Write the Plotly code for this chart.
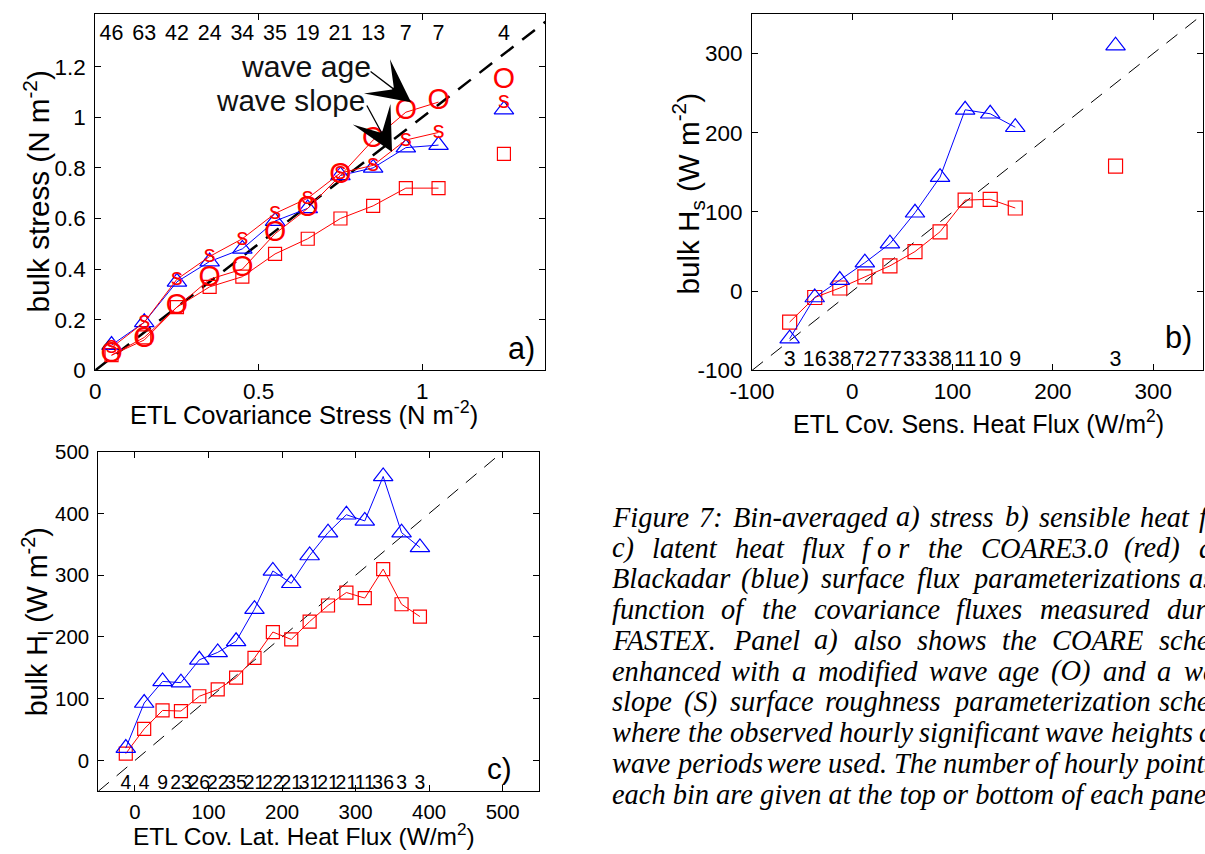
import plotly.graph_objects as go

W, H = 1205, 854

# ---------------- data : panel a (stress) ----------------
a_bins = [0.05, 0.15, 0.25, 0.35, 0.45, 0.55, 0.65, 0.75, 0.85, 0.95, 1.05]
a_coare = [0.06, 0.13, 0.25, 0.33, 0.37, 0.46, 0.52, 0.60, 0.65, 0.72, 0.72]
a_black = [0.10, 0.19, 0.35, 0.43, 0.48, 0.59, 0.64, 0.77, 0.80, 0.88, 0.89]
a_age = [0.06, 0.12, 0.25, 0.36, 0.40, 0.54, 0.64, 0.77, 0.91, 1.02, 1.06]
a_slope = [0.09, 0.19, 0.36, 0.45, 0.52, 0.62, 0.68, 0.78, 0.81, 0.91, 0.94]
a_extra_x = [1.25]
a_extra_coare = [0.855]
a_extra_black = [1.03]
a_extra_age = [1.145]
a_extra_slope = [1.06]
a_counts = [46, 63, 42, 24, 34, 35, 19, 21, 13, 7, 7, 4]
a_count_x = a_bins + a_extra_x
a_diag = [0, 1.377]

# ---------------- data : panel b (sensible heat) ----------------
b_bins = [-62.5, -37.5, -12.5, 12.5, 37.5, 62.5, 87.5, 112.5, 137.5, 162.5]
b_coare = [-39, -8, 4, 18, 32, 50, 75, 115, 116, 105]
b_black = [-60, -8, 14, 36, 60, 99, 144, 229, 224, 207]
b_extra_x = [262.5]
b_extra_coare = [158]
b_extra_black = [310]
b_counts = [3, 16, 38, 72, 77, 33, 38, 11, 10, 9, 3]
b_count_x = b_bins + b_extra_x
b_diag = [-100, 345]

# ---------------- data : panel c (latent heat) ----------------
c_bins = [-12.5, 12.5, 37.5, 62.5, 87.5, 112.5, 137.5, 162.5, 187.5,
          212.5, 237.5, 262.5, 287.5, 312.5, 337.5, 362.5, 387.5]
c_coare = [11, 51, 81, 80, 104, 115, 134, 166, 208, 196, 225, 251, 272, 263, 310, 253, 233]
c_black = [20, 93, 128, 126, 163, 175, 193, 245, 307, 287, 332, 369, 398, 388, 460, 369, 345]
c_counts = [4, 4, 9, 23, 26, 22, 35, 21, 22, 21, 31, 21, 21, 11, 36, 3, 3]
c_diag = [-50, 490]

# tick labels
a_yticks = [0, 0.2, 0.4, 0.6, 0.8, 1.0, 1.2]
b_ticks = [-100, 0, 100, 200, 300]
b_ticktext = ["-100", "0", "100", "200", "300"]
c_ticks = [0, 100, 200, 300, 400, 500]

caption_lines = [
    "Figure 7: Bin-averaged a) stress b) sensible heat flux",
    "c) latent heat flux f o r the COARE3.0 (red) and",
    "Blackadar (blue) surface flux parameterizations as a",
    "function of the covariance fluxes measured during",
    "FASTEX. Panel a) also shows the COARE scheme",
    "enhanced with a modified wave age (O) and a wave",
    "slope (S) surface roughness parameterization scheme",
    "where the observed hourly significant wave heights and",
    "wave periods were used. The number of hourly points in",
    "each bin are given at the top or bottom of each panel.",
]

RED = "#ff0000"
BLUE = "#0000ff"
SANS = "Liberation Sans, Arial, sans-serif"
SERIF = "Liberation Serif, Times New Roman, serif"

# approximate Times-Italic advance widths (per 1000 em) for justified caption layout
TI = {" ": 250, "(": 333, ")": 333, ",": 250, "-": 333, ".": 250, "/": 278, ":": 333}
TI.update({d: 500 for d in "0123456789"})
TI.update(dict(A=611, B=611, C=667, D=722, E=611, F=611, G=722, H=722, I=333, J=444, K=667,
               L=556, M=833, N=667, O=722, P=611, Q=722, R=611, S=500, T=556, U=722, V=611,
               W=833, X=611, Y=556, Z=556))
TI.update(dict(a=500, b=500, c=444, d=500, e=444, f=278, g=500, h=500, i=278, j=278, k=444,
               l=278, m=722, n=500, o=500, p=500, q=500, r=389, s=389, t=278, u=500, v=444,
               w=667, x=444, y=444, z=389))

# mapping from target-picture pixel positions to layout pixels (compensates the
# slight scale/offset observed in the photographed page)
SC, OX, OY = 0.979, 24.0, 6.0


def X(xr):
    return (xr - OX) / SC


def Y(yr):
    return (yr - OY) / SC


def px(xr):
    return X(xr) / W


def py(yr):
    return 1 - Y(yr) / H


def fs(s):
    return s / SC


def text_w(s, size):
    return sum(TI.get(ch, 500) for ch in s) * size / 1000.0


fig = go.Figure()

# ---------- panel a ----------
fig.add_trace(go.Scatter(x=a_diag, y=a_diag, mode="lines", xaxis="x", yaxis="y",
                         line=dict(color="black", width=2.5, dash="16px,11px")))
fig.add_trace(go.Scatter(x=a_bins, y=a_coare, mode="lines+markers", xaxis="x", yaxis="y",
                         line=dict(color=RED, width=1),
                         marker=dict(symbol="square-open", size=13, color=RED, line=dict(width=1.2))))
fig.add_trace(go.Scatter(x=a_bins, y=a_black, mode="lines+markers", xaxis="x", yaxis="y",
                         line=dict(color=BLUE, width=1),
                         marker=dict(symbol="triangle-up-open", size=17, color=BLUE, line=dict(width=1.2))))
fig.add_trace(go.Scatter(x=a_bins, y=a_slope, mode="lines+text", xaxis="x", yaxis="y",
                         text=["s"] * len(a_bins), textposition="middle center",
                         textfont=dict(family=SANS, size=fs(23), color=RED),
                         line=dict(color=RED, width=1)))
fig.add_trace(go.Scatter(x=a_bins, y=a_age, mode="lines+text", xaxis="x", yaxis="y",
                         text=["O"] * len(a_bins), textposition="middle center",
                         textfont=dict(family=SANS, size=fs(28), color=RED),
                         line=dict(color=RED, width=1)))
fig.add_trace(go.Scatter(x=a_extra_x, y=a_extra_coare, mode="markers", xaxis="x", yaxis="y",
                         marker=dict(symbol="square-open", size=13, color=RED, line=dict(width=1.2))))
fig.add_trace(go.Scatter(x=a_extra_x, y=a_extra_black, mode="markers", xaxis="x", yaxis="y",
                         marker=dict(symbol="triangle-up-open", size=17, color=BLUE, line=dict(width=1.2))))
fig.add_trace(go.Scatter(x=a_extra_x, y=a_extra_slope, mode="text", xaxis="x", yaxis="y",
                         text=["s"], textposition="middle center",
                         textfont=dict(family=SANS, size=fs(23), color=RED)))
fig.add_trace(go.Scatter(x=a_extra_x, y=a_extra_age, mode="text", xaxis="x", yaxis="y",
                         text=["O"], textposition="middle center",
                         textfont=dict(family=SANS, size=fs(28), color=RED)))
fig.add_trace(go.Scatter(x=a_count_x, y=[1.325] * len(a_count_x), mode="text", xaxis="x", yaxis="y",
                         text=[str(c) for c in a_counts], textposition="middle center",
                         textfont=dict(family=SANS, size=fs(21), color="black")))

# ---------- panel b ----------
fig.add_trace(go.Scatter(x=b_diag, y=b_diag, mode="lines", xaxis="x2", yaxis="y2",
                         line=dict(color="black", width=1, dash="14px,10px")))
fig.add_trace(go.Scatter(x=b_bins, y=b_coare, mode="lines+markers", xaxis="x2", yaxis="y2",
                         line=dict(color=RED, width=1),
                         marker=dict(symbol="square-open", size=14, color=RED, line=dict(width=1.2))))
fig.add_trace(go.Scatter(x=b_bins, y=b_black, mode="lines+markers", xaxis="x2", yaxis="y2",
                         line=dict(color=BLUE, width=1),
                         marker=dict(symbol="triangle-up-open", size=17, color=BLUE, line=dict(width=1.2))))
fig.add_trace(go.Scatter(x=b_extra_x, y=b_extra_coare, mode="markers", xaxis="x2", yaxis="y2",
                         marker=dict(symbol="square-open", size=14, color=RED, line=dict(width=1.2))))
fig.add_trace(go.Scatter(x=b_extra_x, y=b_extra_black, mode="markers", xaxis="x2", yaxis="y2",
                         marker=dict(symbol="triangle-up-open", size=17, color=BLUE, line=dict(width=1.2))))
fig.add_trace(go.Scatter(x=b_count_x, y=[-87.5] * len(b_count_x), mode="text", xaxis="x2", yaxis="y2",
                         text=[str(c) for c in b_counts], textposition="middle center",
                         textfont=dict(family=SANS, size=fs(21), color="black")))

# ---------- panel c ----------
fig.add_trace(go.Scatter(x=c_diag, y=c_diag, mode="lines", xaxis="x3", yaxis="y3",
                         line=dict(color="black", width=1, dash="14px,10px")))
fig.add_trace(go.Scatter(x=c_bins, y=c_coare, mode="lines+markers", xaxis="x3", yaxis="y3",
                         line=dict(color=RED, width=1),
                         marker=dict(symbol="square-open", size=13, color=RED, line=dict(width=1.2))))
fig.add_trace(go.Scatter(x=c_bins, y=c_black, mode="lines+markers", xaxis="x3", yaxis="y3",
                         line=dict(color=BLUE, width=1),
                         marker=dict(symbol="triangle-up-open", size=17, color=BLUE, line=dict(width=1.2))))
fig.add_trace(go.Scatter(x=c_bins, y=[-38] * len(c_bins), mode="text", xaxis="x3", yaxis="y3",
                         text=[str(c) for c in c_counts], textposition="middle center",
                         textfont=dict(family=SANS, size=fs(19), color="black")))

axis_common = dict(showline=True, linecolor="black", linewidth=1, mirror="ticks",
                   ticks="inside", ticklen=6, tickcolor="black", showgrid=False,
                   zeroline=False, fixedrange=True)

annotations = []


def ann(text, x, y, size, angle=0, family=SANS, xanchor="center", color="black", raw_x=False):
    xp = x / W if raw_x else px(x)
    annotations.append(dict(text=text, x=xp, y=py(y), xref="paper", yref="paper",
                            showarrow=False, textangle=angle, xanchor=xanchor, yanchor="middle",
                            font=dict(family=family, size=fs(size), color=color)))


# axis titles
ann("bulk stress (N m<sup>-2</sup>)", 15, 188, 29, angle=-90, raw_x=True)
ann("ETL Covariance Stress (N m<sup>-2</sup>)", 305, 411, 25)
ann("bulk H<sub>s</sub> (W m<sup>-2</sup>)", 688, 190, 29, angle=-90)
ann("ETL Cov. Sens. Heat Flux (W/m<sup>2</sup>)", 978, 420, 24.5)
ann("bulk H<sub>l</sub> (W m<sup>-2</sup>)", 15, 621, 28, angle=-90, raw_x=True)
ann("ETL Cov. Lat. Heat Flux (W/m<sup>2</sup>)", 305, 836, 24)

# panel labels
ann("a)", 522, 346, 30)
ann("b)", 1177, 335, 30)
ann("c)", 500, 769, 29)

# wave age / wave slope text
ann("wave age", 307, 62, 29.5, color="#111")
ann("wave slope", 292, 96, 29, color="#111")

# arrows (thin shaft, large notched head)
for tip, off in [((412, 98), (-42, -32)), ((393, 148), (-26, -48))]:
    annotations.append(dict(text="", x=px(tip[0]), y=py(tip[1]), xref="paper", yref="paper",
                            ax=off[0], ay=off[1], showarrow=True, arrowhead=3,
                            arrowsize=5.5, arrowwidth=1.3, arrowcolor="black"))

# caption: justified lines, each word placed individually (layout pixels)
CAP_SIZE = 28.4
CAP_LEFT = X(610)
CAP_RIGHT = CAP_LEFT + 641
for i, line in enumerate(caption_lines):
    yc = 516 + 31 * i
    words = line.replace("f o r", "f\u00a0o\u00a0r").split(" ")
    if i == len(caption_lines) - 1:
        annotations.append(dict(text="<i>" + line + "</i>", x=CAP_LEFT / W, y=py(yc),
                                xref="paper", yref="paper", showarrow=False,
                                xanchor="left", yanchor="middle",
                                font=dict(family=SERIF, size=CAP_SIZE, color="black")))
        continue
    widths = [text_w(w_.replace("\u00a0", " "), CAP_SIZE) for w_ in words]
    gap = (CAP_RIGHT - CAP_LEFT - sum(widths)) / (len(words) - 1)
    xpos = CAP_LEFT
    for w_, wd in zip(words, widths):
        if xpos < W - 4:
            annotations.append(dict(text="<i>" + w_ + "</i>", x=xpos / W, y=py(yc),
                                    xref="paper", yref="paper", showarrow=False,
                                    xanchor="left", yanchor="middle",
                                    font=dict(family=SERIF, size=CAP_SIZE, color="black")))
        xpos += wd + gap

fig.update_layout(
    width=W, height=H, margin=dict(l=0, r=0, t=0, b=0),
    paper_bgcolor="white", plot_bgcolor="white", showlegend=False,
    font=dict(family=SANS, color="black"),
    xaxis=dict(domain=[px(97), px(546)], range=[0, 1.377], tickvals=[0, 0.5, 1],
               anchor="y", tickfont=dict(size=fs(22)), ticklabelstandoff=1, **axis_common),
    yaxis=dict(domain=[py(368), py(9)], range=[0, 1.408], tickvals=a_yticks,
               anchor="x", tickfont=dict(size=fs(22)), ticklabelstandoff=4, **axis_common),
    xaxis2=dict(domain=[px(752), min(px(1202), 0.999)], range=[-100, 350], tickvals=b_ticks,
                ticktext=b_ticktext, anchor="y2", tickfont=dict(size=fs(22)), ticklabelstandoff=1,
                **axis_common),
    yaxis2=dict(domain=[py(368), py(9)], range=[-100, 350], tickvals=b_ticks, ticktext=b_ticktext,
                anchor="x2", tickfont=dict(size=fs(22)), ticklabelstandoff=4, **axis_common),
    xaxis3=dict(domain=[px(100), px(540)], range=[-50, 550], tickvals=c_ticks,
                anchor="y3", tickfont=dict(size=fs(20)), ticklabelstandoff=2, **axis_common),
    yaxis3=dict(domain=[py(792), py(450)], range=[-50, 500], tickvals=c_ticks,
                anchor="x3", tickfont=dict(size=fs(20)), ticklabelstandoff=4, **axis_common),
    annotations=annotations,
)

fig.write_html("out.html")
